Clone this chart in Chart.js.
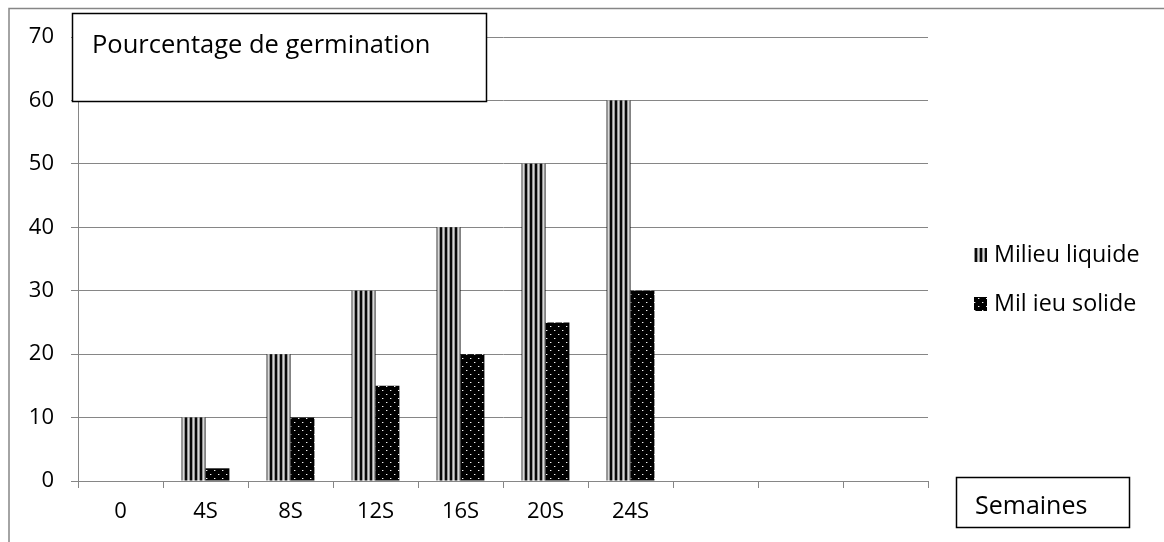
<!DOCTYPE html>
<html>
<head>
<meta charset="utf-8">
<script src="https://cdn.jsdelivr.net/npm/chart.js@4/dist/chart.umd.min.js"></script>
<style>
  html, body { margin: 0; padding: 0; background: #fff; overflow: hidden; }
  #wrap { width: 1164px; height: 542px; position: relative; }
</style>
</head>
<body>
<div id="wrap"><canvas id="c" width="1164" height="542"></canvas></div>
<script>
// Germination data, week by week
const categories = ['0', '4S', '8S', '12S', '16S', '20S', '24S', '', '', ''];
const milieuLiquide = [0, 10, 20, 30, 40, 50, 60, null, null, null];
const milieuSolide = [0, 2, 10, 15, 20, 25, 30, null, null, null];
const seriesNames = ['Milieu liquide', 'Mil ieu solide'];
const yTicks = [0, 10, 20, 30, 40, 50, 60, 70];
const chartTitle = 'Pourcentage de germination';
const xAxisTitle = 'Semaines';

const FONT = '"Open Sans"';
const GRID = '#868686';

// Vertical hatching used for the liquid medium
function stripePattern(ctx) {
  const c = document.createElement('canvas');
  c.width = 5; c.height = 4;
  const g = c.getContext('2d');
  const cols = ['#0a0a0a', '#0a0a0a', '#949494', '#d8d8d8', '#949494'];
  cols.forEach((col, i) => { g.fillStyle = col; g.fillRect(i, 0, 1, 4); });
  return ctx.createPattern(c, 'repeat');
}

// Dark fill with small light dots used for the solid medium
function dotPattern(ctx) {
  const c = document.createElement('canvas');
  c.width = 8; c.height = 8;
  const g = c.getContext('2d');
  g.fillStyle = '#000'; g.fillRect(0, 0, 8, 8);
  g.fillStyle = '#f4f4f4';
  g.fillRect(2, 2, 1, 1);
  g.fillRect(6, 6, 1, 1);
  g.fillStyle = '#5a5a5a';
  g.fillRect(3, 2, 1, 1);
  g.fillRect(7, 6, 1, 1);
  return ctx.createPattern(c, 'repeat');
}

const decor = {
  id: 'decor',
  beforeDraw(chart) {
    const ctx = chart.ctx;
    ctx.save();
    ctx.fillStyle = '#fff';
    ctx.fillRect(0, 0, chart.width, chart.height);
    // outer frame (top and left edges)
    ctx.strokeStyle = GRID;
    ctx.lineWidth = 1.5;
    ctx.beginPath();
    ctx.moveTo(9, chart.height);
    ctx.lineTo(9, 8.5);
    ctx.lineTo(chart.width, 8.5);
    ctx.stroke();
    ctx.restore();
  },
  afterDraw(chart) {
    const ctx = chart.ctx;
    ctx.save();
    // title box
    ctx.fillStyle = '#fff';
    ctx.fillRect(72, 13, 414, 89);
    ctx.strokeStyle = '#000';
    ctx.lineWidth = 1.5;
    ctx.strokeRect(72.5, 13.5, 414, 88);
    ctx.fillStyle = '#000';
    ctx.font = '25.5px ' + FONT;
    ctx.textBaseline = 'alphabetic';
    ctx.textAlign = 'left';
    ctx.fillText(chartTitle, 92, 53);

    // x axis title box
    ctx.fillStyle = '#fff';
    ctx.fillRect(956, 477, 173, 50);
    ctx.strokeRect(956.5, 477.5, 173, 50);
    ctx.fillStyle = '#000';
    ctx.font = '25px ' + FONT;
    ctx.fillText(xAxisTitle, 975, 514);

    // legend
    const pats = [chart.data.datasets[0].backgroundColor, chart.data.datasets[1].backgroundColor];
    const rows = [255, 304];
    ctx.font = '23.3px ' + FONT;
    ctx.textBaseline = 'middle';
    seriesNames.forEach((name, i) => {
      ctx.fillStyle = pats[i];
      ctx.fillRect(974, rows[i] - 7, 13, 14);
      ctx.fillStyle = '#000';
      ctx.fillText(name, 994, rows[i]);
    });
    ctx.restore();
  }
};

function build() {
  const canvas = document.getElementById('c');
  const ctx = canvas.getContext('2d');
  const stripes = stripePattern(ctx);
  const dots = dotPattern(ctx);

  new Chart(ctx, {
    type: 'bar',
    data: {
      labels: categories,
      datasets: [
        { label: seriesNames[0], data: milieuLiquide, backgroundColor: stripes, borderWidth: 0 },
        { label: seriesNames[1], data: milieuSolide, backgroundColor: dots, borderWidth: 0 }
      ]
    },
    options: {
      responsive: false,
      animation: false,
      devicePixelRatio: 1,
      layout: { padding: { left: 0, top: 37, right: 236, bottom: 0 } },
      datasets: { bar: { categoryPercentage: 0.5625, barPercentage: 1 } },
      plugins: {
        legend: { display: false },
        title: { display: false },
        tooltip: { enabled: false }
      },
      scales: {
        x: {
          grid: { offset: true, drawOnChartArea: false, drawTicks: true, tickLength: 7, color: GRID, lineWidth: 1 },
          border: { color: GRID, width: 1 },
          ticks: { font: { family: FONT, size: 22 }, color: '#000', padding: 11, maxRotation: 0, autoSkip: false },
          afterFit(s) { s.height = 61; }
        },
        y: {
          min: 0,
          max: 70,
          afterBuildTicks(s) { s.ticks = yTicks.map(v => ({ value: v })); },
          ticks: { font: { family: FONT, size: 22 }, color: '#000', padding: 17 },
          grid: { color: GRID, tickLength: 7, lineWidth: 1 },
          border: { color: GRID, width: 1 },
          afterFit(s) { s.width = 78; }
        }
      }
    },
    plugins: [decor]
  });
}

Promise.all([
  document.fonts.load('22px ' + FONT),
  document.fonts.load('25px ' + FONT)
]).then(build, build);
</script>
</body>
</html>
